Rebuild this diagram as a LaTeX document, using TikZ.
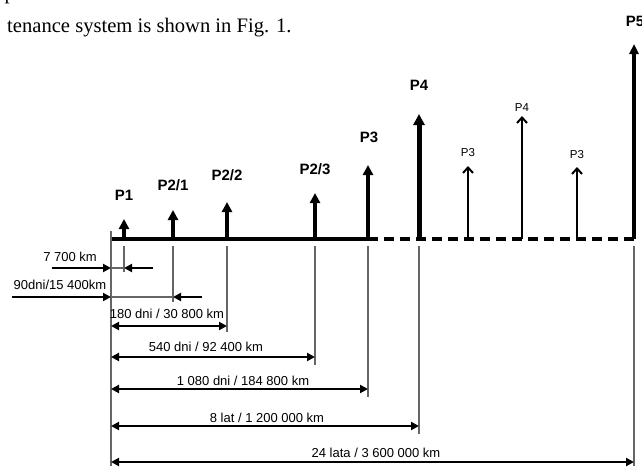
\documentclass[tikz,border=0pt]{standalone}
\usepackage{fontspec}
\setmainfont{Liberation Serif}
\newfontfamily\arialfont{Liberation Sans}
\usetikzlibrary{arrows.meta}
\begin{document}
\begin{tikzpicture}[x=1pt,y=-1pt,
  axisline/.style={line width=3.4pt},
  evtbold/.style={line width=3.2pt,-{Triangle[width=10pt,length=10pt]}},
  evtthin/.style={line width=2pt,-{Straight Barb[width=10pt,length=5.5pt]}},
  extline/.style={line width=1.2pt,draw=black!60},
  dimarrow/.style={line width=2.8pt,{Triangle[width=8pt,length=8pt]}-{Triangle[width=8pt,length=8pt]}},
  dimone/.style={line width=2.8pt,-{Triangle[width=8pt,length=8pt]}},
  boldlab/.style={font=\arialfont\bfseries\fontsize{15}{17}\selectfont,inner sep=0pt},
  thinlab/.style={font=\arialfont\fontsize{11.5}{13}\selectfont,inner sep=0pt},
  dimlab/.style={font=\arialfont\fontsize{13}{15}\selectfont,inner sep=0pt},
  headtxt/.style={font=\fontsize{20.6}{24}\selectfont,inner sep=0pt,anchor=base west}
]
\useasboundingbox (0,0) rectangle (642,466);
\clip (0,0) rectangle (642,466);
% header text
\node[headtxt] (prev) at (4.5,-0.5) {p};
\node[headtxt] (head) at (7,32) {tenance system is shown in Fig. 1.};
% axis
\coordinate (o) at (111,239);
\coordinate (s) at (368,239);
\coordinate (e) at (635,239);
\draw[axisline] (o) -- (s);
\draw[axisline,dash pattern=on 10pt off 6pt] (s) -- (e);
% event arrows
\coordinate (b1) at (124,239);  \coordinate (t1) at (124,219);
\coordinate (b2) at (173,239);  \coordinate (t2) at (173,210);
\coordinate (b3) at (227,239);  \coordinate (t3) at (227,202);
\coordinate (b4) at (315,239);  \coordinate (t4) at (315,193);
\coordinate (b5) at (368,239);  \coordinate (t5) at (368,165);
\coordinate (b6) at (419,239);  \coordinate (t6) at (419,114);
\coordinate (b7) at (468,239);  \coordinate (t7) at (468,166);
\coordinate (b8) at (522,239);  \coordinate (t8) at (522,116);
\coordinate (b9) at (577,239);  \coordinate (t9) at (577,167);
\coordinate (b10) at (634,239); \coordinate (t10) at (634,44);
\draw[evtbold] (b1) -- (t1);
\draw[evtbold] (b2) -- (t2);
\draw[evtbold] (b3) -- (t3);
\draw[evtbold] (b4) -- (t4);
\draw[evtbold] (b5) -- (t5);
\draw[evtbold,line width=5pt,-{Triangle[width=11pt,length=11pt]}] (b6) -- (t6);
\draw[evtthin] (b7) -- (t7);
\draw[evtthin] (b8) -- (t8);
\draw[evtthin] (b9) -- (t9);
\draw[evtbold,-{Triangle[width=9pt,length=10pt]}] (b10) -- (t10);
% event labels
\node[boldlab] (l1) at (124,195) {P1};
\node[boldlab] (l2) at (173,185) {P2/1};
\node[boldlab] (l3) at (227,175) {P2/2};
\node[boldlab] (l4) at (315,169) {P2/3};
\node[boldlab] (l5) at (369,137) {P3};
\node[boldlab] (l6) at (419,85) {P4};
\node[thinlab] (l7) at (468,153) {P3};
\node[thinlab] (l8) at (522,108) {P4};
\node[thinlab] (l9) at (577,155) {P3};
\node[boldlab] (l10) at (635,21) {P5};
% extension lines
\coordinate (x0a) at (111,231); \coordinate (x0b) at (111,466);
\coordinate (x1a) at (124,246); \coordinate (x1b) at (124,272);
\coordinate (x2a) at (173,246); \coordinate (x2b) at (173,302);
\coordinate (x3a) at (227,246); \coordinate (x3b) at (227,332);
\coordinate (x4a) at (315,246); \coordinate (x4b) at (315,365);
\coordinate (x5a) at (368,246); \coordinate (x5b) at (368,397);
\coordinate (x6a) at (419,246); \coordinate (x6b) at (419,434);
\coordinate (x10a) at (634,246); \coordinate (x10b) at (634,466);
\draw[extline] (x0a) -- (x0b);
\draw[extline] (x1a) -- (x1b);
\draw[extline] (x2a) -- (x2b);
\draw[extline] (x3a) -- (x3b);
\draw[extline] (x4a) -- (x4b);
\draw[extline] (x5a) -- (x5b);
\draw[extline] (x6a) -- (x6b);
\draw[extline] (x10a) -- (x10b);
% 7 700 km
\coordinate (a1s) at (52,268); \coordinate (a1e) at (111,268);
\coordinate (a1r) at (153,268); \coordinate (a1t) at (124,268);
\draw[extline] (a1e) -- (a1t);
\draw[dimone] (a1s) -- (a1e);
\draw[dimone] (a1r) -- (a1t);
\node[dimlab] (d1) at (70,257) {7 700 km};
% 90dni
\coordinate (a2s) at (12,297); \coordinate (a2e) at (111,297);
\coordinate (a2r) at (202,297); \coordinate (a2t) at (173,297);
\draw[extline] (a2e) -- (a2t);
\draw[dimone] (a2s) -- (a2e);
\draw[dimone] (a2r) -- (a2t);
\node[dimlab] (d2) at (60,285) {90dni/15 400km};
% double arrows
\coordinate (a3s) at (111,326); \coordinate (a3e) at (227,326);
\coordinate (a4s) at (111,357); \coordinate (a4e) at (315,357);
\coordinate (a5s) at (111,389); \coordinate (a5e) at (368,389);
\coordinate (a6s) at (111,426); \coordinate (a6e) at (419,426);
\coordinate (a7s) at (111,462); \coordinate (a7e) at (634,462);
\draw[dimarrow] (a3s) -- (a3e);
\draw[dimarrow] (a4s) -- (a4e);
\draw[dimarrow] (a5s) -- (a5e);
\draw[dimarrow] (a6s) -- (a6e);
\draw[dimarrow] (a7s) -- (a7e);
\node[dimlab] (d3) at (167,314) {180 dni / 30 800 km};
\node[dimlab] (d4) at (206,347) {540 dni / 92 400 km};
\node[dimlab] (d5) at (243,381) {1 080 dni / 184 800 km};
\node[dimlab] (d6) at (267,418) {8 lat / 1 200 000 km};
\node[dimlab] (d7) at (376,453) {24 lata / 3 600 000 km};
\end{tikzpicture}
\end{document}
